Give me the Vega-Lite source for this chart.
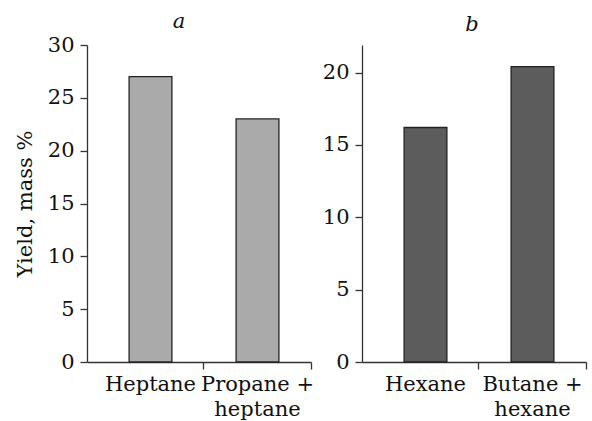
{
  "$schema": "https://vega.github.io/schema/vega-lite/v6.json",
  "padding": {"left": 14, "top": 11, "right": 5, "bottom": 5},
  "background": "white",
  "config": {
    "view": {"stroke": null},
    "font": "DejaVu Serif",
    "axis": {
      "domainColor": "#333333", "tickColor": "#333333", "domainWidth": 1.3, "tickWidth": 1.3,
      "labelColor": "#111111", "labelFont": "DejaVu Serif", "labelFontSize": 21,
      "grid": false, "tickSize": 7,
      "titleFont": "DejaVu Serif", "titleFontSize": 21, "titleFontWeight": "normal", "titleColor": "#111111"
    },
    "title": {"font": "DejaVu Serif", "fontSize": 21, "fontStyle": "italic", "fontWeight": "normal", "frame": "group", "color": "#111111"}
  },
  "spacing": 51,
  "bounds": "flush",
  "hconcat": [
    {
      "title": {"text": "a", "dx": -20, "offset": 2},
      "width": 224,
      "height": 317,
      "data": {"values": [{"solvent": "Heptane", "yield": 27}, {"solvent": "Propane + heptane", "yield": 23}]},
      "mark": {"type": "bar", "width": {"band": 0.4}, "fill": "#aaaaaa", "stroke": "#222222", "strokeWidth": 1.3},
      "encoding": {
        "x": {
          "field": "solvent", "type": "nominal", "sort": null,
          "scale": {"paddingInner": 0, "paddingOuter": 0.0467, "align": 1},
          "axis": {
            "title": null, "labelAngle": 0, "bandPosition": 1,
            "labelPadding": 4, "labelLineHeight": 25, "labelBaseline": "top",
            "labelExpr": "indexof(datum.value, '+') > 0 ? [slice(datum.value, 0, indexof(datum.value, '+')) + ' +', slice(datum.value, indexof(datum.value, '+') + 2)] : datum.value"
          }
        },
        "y": {
          "field": "yield", "type": "quantitative",
          "scale": {"domain": [0, 30], "nice": false},
          "axis": {"title": "Yield, mass %", "values": [0, 5, 10, 15, 20, 25, 30], "titlePadding": 12, "labelPadding": 6}
        }
      }
    },
    {
      "title": {"text": "b", "dx": -2, "offset": 10},
      "width": 224,
      "height": 317,
      "data": {"values": [{"solvent": "Hexane", "yield": 16.2}, {"solvent": "Butane + hexane", "yield": 20.4}]},
      "mark": {"type": "bar", "width": {"band": 0.4}, "fill": "#5c5c5c", "stroke": "#222222", "strokeWidth": 1.3},
      "encoding": {
        "x": {
          "field": "solvent", "type": "nominal", "sort": null,
          "scale": {"paddingInner": 0, "paddingOuter": 0.0467, "align": 1},
          "axis": {
            "title": null, "labelAngle": 0, "bandPosition": 1,
            "labelPadding": 4, "labelLineHeight": 25, "labelBaseline": "top",
            "labelExpr": "indexof(datum.value, '+') > 0 ? [slice(datum.value, 0, indexof(datum.value, '+')) + ' +', slice(datum.value, indexof(datum.value, '+') + 2)] : datum.value"
          }
        },
        "y": {
          "field": "yield", "type": "quantitative",
          "scale": {"domain": [0, 21.9], "nice": false},
          "axis": {"title": null, "values": [0, 5, 10, 15, 20], "labelPadding": 6}
        }
      }
    }
  ]
}
